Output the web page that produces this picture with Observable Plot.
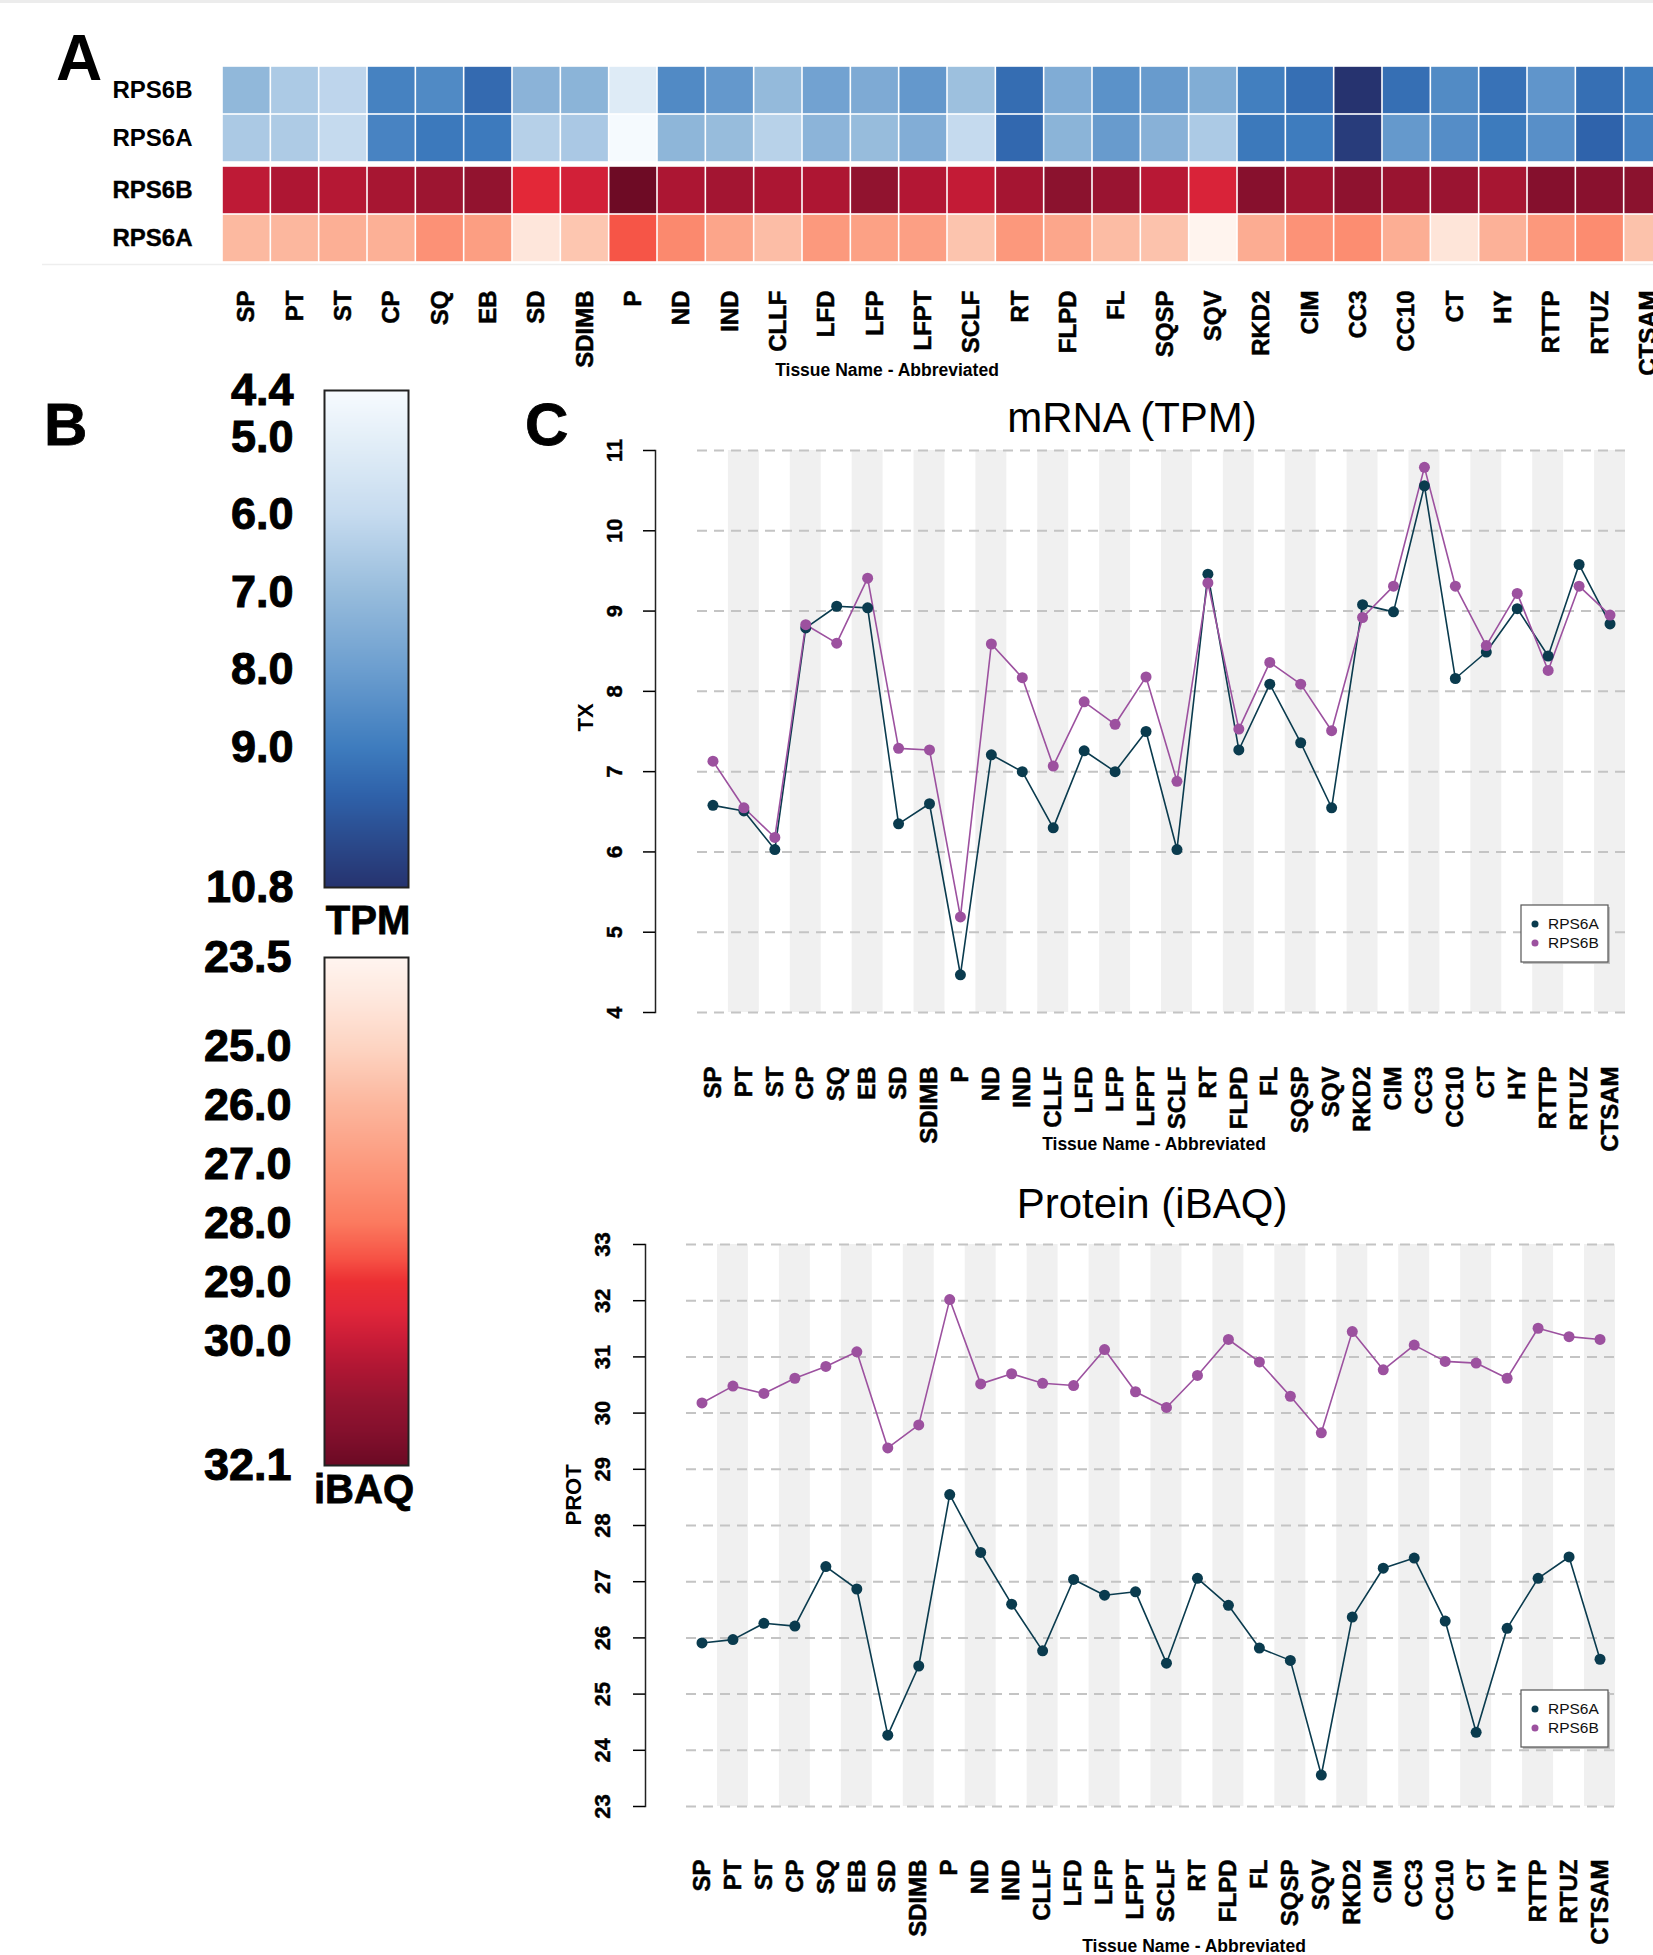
<!DOCTYPE html>
<html><head><meta charset="utf-8">
<script src="https://cdn.jsdelivr.net/npm/d3@7"></script>
<script src="https://cdn.jsdelivr.net/npm/@observablehq/plot@0.6"></script>
<style>
html,body{margin:0;padding:0;background:#fff;overflow:hidden}
#page{position:relative;width:1653px;height:1955px;overflow:hidden;background:#fff;font-family:"Liberation Sans",Arial,sans-serif}
.cbar g[aria-label="y-axis tick label"] text{stroke:#000;stroke-width:1px}
.heavy g[aria-label="x-axis tick label"] text{stroke:#000;stroke-width:0.5px}
.heavy g[aria-label="y-axis tick label"] text{stroke:#000;stroke-width:0.4px}
</style></head><body><div id="page"></div>
<script>
// ---------- data ----------
const tissues = ["SP","PT","ST","CP","SQ","EB","SD","SDIMB","P","ND","IND","CLLF","LFD","LFP","LFPT","SCLF","RT","FLPD","FL","SQSP","SQV","RKD2","CIM","CC3","CC10","CT","HY","RTTP","RTUZ","CTSAM"];
const genes = ["RPS6A","RPS6B"];
const mrnaA = [6.58,6.51,6.03,8.79,9.06,9.04,6.35,6.60,4.47,7.21,7.00,6.30,7.26,7.00,7.50,6.03,9.46,7.27,8.09,7.36,6.55,9.08,8.99,10.56,8.16,8.49,9.03,8.44,9.58,8.84];
const mrnaB = [7.13,6.55,6.18,8.83,8.60,9.41,7.29,7.27,5.19,8.59,8.17,7.07,7.87,7.59,8.18,6.88,9.35,7.53,8.36,8.09,7.51,8.92,9.31,10.79,9.31,8.57,9.22,8.26,9.31,8.95];
const protA = [25.91,25.97,26.26,26.21,27.27,26.87,24.27,25.50,28.55,27.52,26.60,25.77,27.04,26.76,26.82,25.55,27.06,26.58,25.82,25.60,23.56,26.37,27.24,27.42,26.30,24.32,26.17,27.06,27.44,25.62];
const protB = [30.18,30.48,30.35,30.62,30.83,31.09,29.38,29.79,32.02,30.52,30.70,30.53,30.49,31.13,30.38,30.10,30.67,31.31,30.91,30.30,29.65,31.45,30.77,31.21,30.92,30.89,30.62,31.51,31.36,31.31];
const heatRows = ["RPS6B","RPS6A"];
const tpmTicks = [4.4,5,6,7,8,9,10.8];
const ibaqTicks = [23.5,25,26,27,28,29,30,32.1];
const txTicks = [4,5,6,7,8,9,10,11];
const protTicks = [23,24,25,26,27,28,29,30,31,32,33];
const geneColors = ["#0a3b4e","#9c519f"];
const bluesDomain = [4.4,5.0,6.0,7.0,8.0,9.0,9.6,10.8];
const bluesRange = ["#f7fbff","#e4eff8","#c6dbef","#97bcdc","#6c9ecf","#3e7cbe","#2f62aa","#26336f"];
const redsDomain = [23.5,24.3,25.0,26.0,27.0,28.0,28.6,29.0,29.5,30.0,30.5,31.0,31.5,32.1];
const redsRange = ["#fff5f0","#fee5da","#fdd5c3","#fcb69d","#fc9a7e","#fb7a5f","#f65245","#ec2f33","#e0263a","#c81c37","#ad1633","#951430","#85102d","#6b0a24"];

// tidy tables built from the arrays
const mrna = tissues.flatMap((t, i) => [{tissue: t, gene: "RPS6A", value: mrnaA[i]}, {tissue: t, gene: "RPS6B", value: mrnaB[i]}]);
const prot = tissues.flatMap((t, i) => [{tissue: t, gene: "RPS6A", value: protA[i]}, {tissue: t, gene: "RPS6B", value: protB[i]}]);
const shaded = tissues.filter((t, i) => i % 2 === 1);

// ---------- helpers ----------
const FONT = "'Liberation Sans', Arial, Helvetica, sans-serif";
const page = document.getElementById("page");
const baseStyle = {background: "transparent", maxWidth: "none", overflow: "visible", fontFamily: FONT, color: "#000"};
function place(el, left, top) {
  el.style.position = "absolute";
  el.style.left = left + "px";
  el.style.top = top + "px";
  page.appendChild(el);
}
const blueScale = {type: "linear", domain: bluesDomain, range: bluesRange, interpolate: "rgb"};
const redScale = {type: "linear", domain: redsDomain, range: redsRange, interpolate: "rgb"};

// ---------- Panel A: heatmaps ----------
const heatBlue = Plot.plot({
  width: 1672, height: 96, marginLeft: 222, marginRight: 0, marginTop: 0, marginBottom: 0,
  style: baseStyle,
  x: {domain: tissues, padding: 0, round: false, axis: null},
  y: {domain: heatRows, padding: 0, round: false},
  color: blueScale,
  marks: [
    Plot.cell(mrna, {x: "tissue", y: "gene", fill: "value", inset: 0.8}),
    Plot.axisY({tickSize: 0, tickPadding: 30, fontSize: 24, fontWeight: "bold", label: null})
  ]
});
place(heatBlue, 0, 66);

const heatRed = Plot.plot({
  width: 1672, height: 226, marginLeft: 222, marginRight: 0, marginTop: 0, marginBottom: 130,
  className: "heavy",
  style: baseStyle,
  x: {domain: tissues, padding: 0, round: false},
  y: {domain: heatRows, padding: 0, round: false},
  color: redScale,
  marks: [
    Plot.cell(prot, {x: "tissue", y: "gene", fill: "value", inset: 0.8}),
    Plot.axisY({tickSize: 0, tickPadding: 30, fontSize: 24, fontWeight: "bold", label: null}),
    Plot.axisX({tickSize: 0, tickPadding: 28, tickRotate: -90, fontSize: 24, fontWeight: "bold", label: null})
  ]
});
place(heatRed, 0, 166);

// ---------- Panel B: colour bars ----------
function colorBar(scale, domain, ticks, height, mt, mb, pad) {
  return Plot.plot({
    width: 408, height, marginLeft: 324, marginRight: 0, marginTop: mt, marginBottom: mb,
    className: "cbar",
    style: baseStyle,
    x: {domain: [0, 1], axis: null},
    y: {domain, reverse: true},
    color: scale,
    marks: [
      Plot.raster({x1: 0, x2: 1, y1: domain[0], y2: domain[1], width: 1, height: 500, fill: (x, y) => y}),
      Plot.frame({stroke: "#222", strokeWidth: 2}),
      Plot.axisY(ticks, {tickSize: 0, tickPadding: pad, tickFormat: d3.format(".1f"), fontSize: 45, fontWeight: "bold", label: null})
    ]
  });
}
place(colorBar(blueScale, [4.4, 10.8], tpmTicks, 560, 30, 33, 31), 0, 360);
place(colorBar(redScale, [23.5, 32.1], ibaqTicks, 570, 27, 35, 33), 0, 930);

// ---------- Panel C: line charts ----------
function lineChart({data, yDomain, yTicks, height, marginTop, marginBottom, marginLeft, marginRight, axisDx, tickPadding, ylabel, ylabelDx, xTickPadding}) {
  return Plot.plot({
    width: 1653, height, marginTop, marginBottom, marginLeft, marginRight,
    className: "heavy",
    style: baseStyle,
    x: {domain: tissues, padding: 0, round: false},
    y: {domain: yDomain},
    color: {domain: genes, range: geneColors},
    marks: [
      Plot.barY(shaded, {x: d => d, y1: yDomain[0], y2: yDomain[1], fill: "#f0f0f0"}),
      Plot.gridY(yTicks, {stroke: "#c4c4c4", strokeOpacity: 1, strokeWidth: 2, strokeDasharray: "10,7"}),
      Plot.frame({anchor: "left", dx: axisDx, stroke: "#222", strokeWidth: 1.5}),
      Plot.axisY(yTicks, {tickSize: 12, tickPadding, tickRotate: -90, tickFormat: d3.format("d"), dx: axisDx, strokeWidth: 1.5, fontSize: 22, fontWeight: "bold", label: null}),
      Plot.axisX({tickSize: 0, tickPadding: xTickPadding, tickRotate: -90, fontSize: 24, fontWeight: "bold", label: null}),
      Plot.text([ylabel], {frameAnchor: "left", dx: ylabelDx, rotate: -90, fontSize: 22, fontWeight: "bold"}),
      Plot.lineY(data, {x: "tissue", y: "value", stroke: "gene", strokeWidth: 1.6}),
      Plot.dot(data, {x: "tissue", y: "value", fill: "gene", r: 5.5})
    ]
  });
}
place(lineChart({data: mrna, yDomain: [4, 11], yTicks: txTicks, height: 790, marginTop: 70, marginBottom: 158,
  marginLeft: 697, marginRight: 28, axisDx: -42, tickPadding: 22, ylabel: "TX", ylabelDx: -112, xTickPadding: 54}), 0, 380);
place(lineChart({data: prot, yDomain: [23, 33], yTicks: protTicks, height: 725, marginTop: 14, marginBottom: 149,
  marginLeft: 686, marginRight: 38, axisDx: -41, tickPadding: 24, ylabel: "PROT", ylabelDx: -113, xTickPadding: 53}), 0, 1230);

// ---------- annotations overlay ----------
const ov = d3.create("svg").attr("width", 1653).attr("height", 1955)
  .style("position", "absolute").style("left", "0px").style("top", "0px")
  .style("pointer-events", "none").style("font-family", FONT);
ov.append("rect").attr("x", 0).attr("y", 0).attr("width", 1653).attr("height", 3).attr("fill", "#ececec");
ov.append("line").attr("x1", 42).attr("x2", 1653).attr("y1", 264.5).attr("y2", 264.5).attr("stroke", "#eeeeee").attr("stroke-width", 1.5);
function txt(s, x, y, size, weight, anchor = "start", sw = 0) {
  const t = ov.append("text").attr("x", x).attr("y", y).attr("font-size", size).attr("font-weight", weight)
    .attr("text-anchor", anchor).attr("fill", "#000").text(s);
  if (sw) t.attr("stroke", "#000").attr("stroke-width", sw);
}
txt("A", 56, 80, 64, "bold");
txt("B", 44, 445, 60, "bold", "start", 0.8);
txt("C", 525, 445, 60, "bold", "start", 0.8);
txt("Tissue Name - Abbreviated", 887, 376, 17.5, "bold", "middle");
txt("TPM", 368, 934, 40, "bold", "middle", 0.8);
txt("iBAQ", 364, 1503, 40, "bold", "middle", 0.8);
txt("mRNA (TPM)", 1132, 432, 42, "normal", "middle");
txt("Protein (iBAQ)", 1152, 1218, 42, "normal", "middle");
txt("Tissue Name - Abbreviated", 1154, 1150, 17.5, "bold", "middle");
txt("Tissue Name - Abbreviated", 1194, 1952, 17.5, "bold", "middle");
function legend(y) {
  const g = ov.append("g");
  g.append("rect").attr("x", 1523).attr("y", y + 2).attr("width", 87).attr("height", 57).attr("fill", "#bdbdbd");
  g.append("rect").attr("x", 1521).attr("y", y).attr("width", 87).attr("height", 57).attr("fill", "#fff").attr("stroke", "#555").attr("stroke-width", 1.2);
  genes.forEach((gname, i) => {
    g.append("circle").attr("cx", 1535).attr("cy", y + 19 + i * 19).attr("r", 3.5).attr("fill", geneColors[i]);
    g.append("text").attr("x", 1548).attr("y", y + 19 + i * 19).attr("dy", "0.35em").attr("font-size", 15.5).attr("fill", "#111").text(gname);
  });
}
legend(905);
legend(1690);
page.appendChild(ov.node());
</script>
</body></html>
